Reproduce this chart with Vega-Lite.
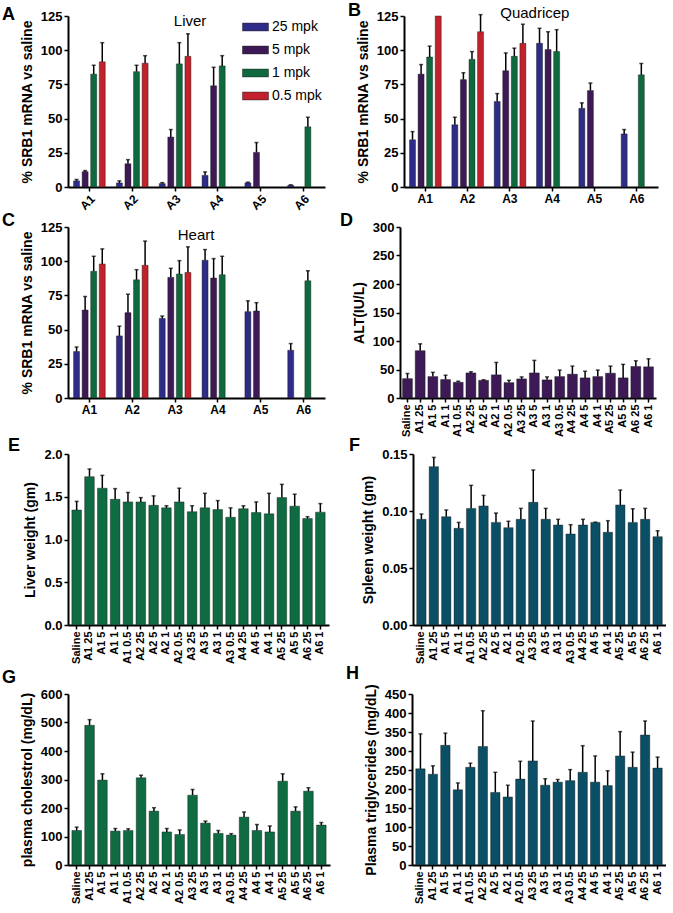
{
  "$schema": "https://vega.github.io/schema/vega-lite/v6.json",
  "padding": {"left": 2, "top": 2, "right": 0, "bottom": 0},
  "background": "white",
  "datasets": {
    "liver": [
      {"g": "A1", "d": "25 mpk", "v": 4.5, "hi": 5.5},
      {"g": "A1", "d": "5 mpk", "v": 11.2, "hi": 12},
      {"g": "A1", "d": "1 mpk", "v": 82.5, "hi": 89},
      {"g": "A1", "d": "0.5 mpk", "v": 91.5, "hi": 105.5},
      {"g": "A2", "d": "25 mpk", "v": 3, "hi": 4.5},
      {"g": "A2", "d": "5 mpk", "v": 17, "hi": 20},
      {"g": "A2", "d": "1 mpk", "v": 84.3, "hi": 89},
      {"g": "A2", "d": "0.5 mpk", "v": 90.5, "hi": 96},
      {"g": "A3", "d": "25 mpk", "v": 2.5, "hi": 3.2},
      {"g": "A3", "d": "5 mpk", "v": 36.5, "hi": 42},
      {"g": "A3", "d": "1 mpk", "v": 90, "hi": 105.5},
      {"g": "A3", "d": "0.5 mpk", "v": 95.5, "hi": 112},
      {"g": "A4", "d": "25 mpk", "v": 8.5, "hi": 11},
      {"g": "A4", "d": "5 mpk", "v": 74, "hi": 87.5},
      {"g": "A4", "d": "1 mpk", "v": 88.5, "hi": 96},
      {"g": "A5", "d": "25 mpk", "v": 3, "hi": 3.5},
      {"g": "A5", "d": "5 mpk", "v": 25.3, "hi": 32.5},
      {"g": "A6", "d": "25 mpk", "v": 1.2, "hi": 1.6},
      {"g": "A6", "d": "1 mpk", "v": 44, "hi": 51}
    ],
    "quad": [
      {"g": "A1", "d": "25 mpk", "v": 34.5, "hi": 40.5},
      {"g": "A1", "d": "5 mpk", "v": 82.5, "hi": 89.5},
      {"g": "A1", "d": "1 mpk", "v": 95, "hi": 103},
      {"g": "A1", "d": "0.5 mpk", "v": 125, "hi": null},
      {"g": "A2", "d": "25 mpk", "v": 45.5, "hi": 51},
      {"g": "A2", "d": "5 mpk", "v": 78.5, "hi": 83.5},
      {"g": "A2", "d": "1 mpk", "v": 93.3, "hi": 99},
      {"g": "A2", "d": "0.5 mpk", "v": 113.5, "hi": 126},
      {"g": "A3", "d": "25 mpk", "v": 62.5, "hi": 68.3},
      {"g": "A3", "d": "5 mpk", "v": 85, "hi": 98},
      {"g": "A3", "d": "1 mpk", "v": 95.5, "hi": 101.5},
      {"g": "A3", "d": "0.5 mpk", "v": 105, "hi": 119},
      {"g": "A4", "d": "25 mpk", "v": 105, "hi": 116},
      {"g": "A4", "d": "5 mpk", "v": 100.5, "hi": 113.5},
      {"g": "A4", "d": "1 mpk", "v": 99, "hi": 115},
      {"g": "A5", "d": "25 mpk", "v": 57.5, "hi": 61.5},
      {"g": "A5", "d": "5 mpk", "v": 70.5, "hi": 76},
      {"g": "A6", "d": "25 mpk", "v": 38.8, "hi": 42},
      {"g": "A6", "d": "1 mpk", "v": 82, "hi": 90.3}
    ],
    "heart": [
      {"g": "A1", "d": "25 mpk", "v": 34, "hi": 37.3},
      {"g": "A1", "d": "5 mpk", "v": 64.3, "hi": 74.2},
      {"g": "A1", "d": "1 mpk", "v": 92.6, "hi": 103.6},
      {"g": "A1", "d": "0.5 mpk", "v": 98, "hi": 109},
      {"g": "A2", "d": "25 mpk", "v": 45.4, "hi": 52.5},
      {"g": "A2", "d": "5 mpk", "v": 62.4, "hi": 75.9},
      {"g": "A2", "d": "1 mpk", "v": 86.4, "hi": 93.8},
      {"g": "A2", "d": "0.5 mpk", "v": 97, "hi": 114.7},
      {"g": "A3", "d": "25 mpk", "v": 58.2, "hi": 59.9},
      {"g": "A3", "d": "5 mpk", "v": 88.2, "hi": 94.8},
      {"g": "A3", "d": "1 mpk", "v": 90.6, "hi": 100.4},
      {"g": "A3", "d": "0.5 mpk", "v": 91.8, "hi": 110.5},
      {"g": "A4", "d": "25 mpk", "v": 100.7, "hi": 108.5},
      {"g": "A4", "d": "5 mpk", "v": 87.7, "hi": 101.9},
      {"g": "A4", "d": "1 mpk", "v": 90.1, "hi": 103.6},
      {"g": "A5", "d": "25 mpk", "v": 63.1, "hi": 71},
      {"g": "A5", "d": "5 mpk", "v": 63.6, "hi": 69.7},
      {"g": "A6", "d": "25 mpk", "v": 34.9, "hi": 39.8},
      {"g": "A6", "d": "1 mpk", "v": 85.7, "hi": 93}
    ],
    "alt": [
      {"c": "Saline", "v": 34, "hi": 43},
      {"c": "A1 25", "v": 83, "hi": 95},
      {"c": "A1 5", "v": 37.6, "hi": 45},
      {"c": "A1 1", "v": 32.4, "hi": 40},
      {"c": "A1 0.5", "v": 27.6, "hi": 29.4},
      {"c": "A2 25", "v": 44, "hi": 46},
      {"c": "A2 5", "v": 31, "hi": 32},
      {"c": "A2 1", "v": 40.6, "hi": 62.4},
      {"c": "A2 0.5", "v": 27, "hi": 31},
      {"c": "A3 25", "v": 33.5, "hi": 37},
      {"c": "A3 5", "v": 44, "hi": 66},
      {"c": "A3 1", "v": 31.8, "hi": 37},
      {"c": "A3 0.5", "v": 37.6, "hi": 49},
      {"c": "A4 25", "v": 41.8, "hi": 56},
      {"c": "A4 5", "v": 35.3, "hi": 47},
      {"c": "A4 1", "v": 37.6, "hi": 49},
      {"c": "A5 25", "v": 43.5, "hi": 56},
      {"c": "A5 5", "v": 35.3, "hi": 59},
      {"c": "A6 25", "v": 55.3, "hi": 65.3},
      {"c": "A6 1", "v": 54.7, "hi": 68.8}
    ],
    "lw": [
      {"c": "Saline", "v": 1.345, "hi": 1.446},
      {"c": "A1 25", "v": 1.735, "hi": 1.825},
      {"c": "A1 5", "v": 1.6, "hi": 1.75},
      {"c": "A1 1", "v": 1.47, "hi": 1.595},
      {"c": "A1 0.5", "v": 1.44, "hi": 1.55},
      {"c": "A2 25", "v": 1.44, "hi": 1.49},
      {"c": "A2 5", "v": 1.4, "hi": 1.51},
      {"c": "A2 1", "v": 1.37, "hi": 1.395},
      {"c": "A2 0.5", "v": 1.44, "hi": 1.6},
      {"c": "A3 25", "v": 1.325, "hi": 1.395},
      {"c": "A3 5", "v": 1.37, "hi": 1.54},
      {"c": "A3 1", "v": 1.35, "hi": 1.455},
      {"c": "A3 0.5", "v": 1.26, "hi": 1.37},
      {"c": "A4 25", "v": 1.36, "hi": 1.395},
      {"c": "A4 5", "v": 1.315, "hi": 1.44},
      {"c": "A4 1", "v": 1.3, "hi": 1.54},
      {"c": "A5 25", "v": 1.49, "hi": 1.645},
      {"c": "A5 5", "v": 1.39, "hi": 1.53},
      {"c": "A6 25", "v": 1.245, "hi": 1.267},
      {"c": "A6 1", "v": 1.32, "hi": 1.42}
    ],
    "sw": [
      {"c": "Saline", "v": 0.0927, "hi": 0.0974},
      {"c": "A1 25", "v": 0.1389, "hi": 0.147},
      {"c": "A1 5", "v": 0.095, "hi": 0.1009},
      {"c": "A1 1", "v": 0.0848, "hi": 0.09},
      {"c": "A1 0.5", "v": 0.1023, "hi": 0.1225},
      {"c": "A2 25", "v": 0.1044, "hi": 0.1137},
      {"c": "A2 5", "v": 0.09, "hi": 0.0982},
      {"c": "A2 1", "v": 0.0854, "hi": 0.091},
      {"c": "A2 0.5", "v": 0.0927, "hi": 0.1023},
      {"c": "A3 25", "v": 0.1076, "hi": 0.136},
      {"c": "A3 5", "v": 0.0927, "hi": 0.1023},
      {"c": "A3 1", "v": 0.0877, "hi": 0.0927},
      {"c": "A3 0.5", "v": 0.0798, "hi": 0.088},
      {"c": "A4 25", "v": 0.0877, "hi": 0.0927},
      {"c": "A4 5", "v": 0.09, "hi": 0.0902},
      {"c": "A4 1", "v": 0.0813, "hi": 0.0915},
      {"c": "A5 25", "v": 0.1053, "hi": 0.1184},
      {"c": "A5 5", "v": 0.09, "hi": 0.102},
      {"c": "A6 25", "v": 0.0927, "hi": 0.1023},
      {"c": "A6 1", "v": 0.0775, "hi": 0.0827}
    ],
    "chol": [
      {"c": "Saline", "v": 121, "hi": 133},
      {"c": "A1 25", "v": 490, "hi": 510},
      {"c": "A1 5", "v": 298, "hi": 320},
      {"c": "A1 1", "v": 119, "hi": 128},
      {"c": "A1 0.5", "v": 121, "hi": 127},
      {"c": "A2 25", "v": 306, "hi": 315},
      {"c": "A2 5", "v": 189, "hi": 201},
      {"c": "A2 1", "v": 116, "hi": 128},
      {"c": "A2 0.5", "v": 107, "hi": 123},
      {"c": "A3 25", "v": 245, "hi": 265},
      {"c": "A3 5", "v": 147, "hi": 154},
      {"c": "A3 1", "v": 111, "hi": 121},
      {"c": "A3 0.5", "v": 105, "hi": 110},
      {"c": "A4 25", "v": 168, "hi": 186},
      {"c": "A4 5", "v": 121, "hi": 142},
      {"c": "A4 1", "v": 116, "hi": 137},
      {"c": "A5 25", "v": 294, "hi": 320},
      {"c": "A5 5", "v": 189, "hi": 204},
      {"c": "A6 25", "v": 259, "hi": 271},
      {"c": "A6 1", "v": 140, "hi": 149}
    ],
    "tg": [
      {"c": "Saline", "v": 253, "hi": 345},
      {"c": "A1 25", "v": 239, "hi": 261},
      {"c": "A1 5", "v": 315, "hi": 347},
      {"c": "A1 1", "v": 198, "hi": 216},
      {"c": "A1 0.5", "v": 257, "hi": 268},
      {"c": "A2 25", "v": 312, "hi": 406},
      {"c": "A2 5", "v": 191, "hi": 244},
      {"c": "A2 1", "v": 179, "hi": 210},
      {"c": "A2 0.5", "v": 226, "hi": 273},
      {"c": "A3 25", "v": 274, "hi": 379},
      {"c": "A3 5", "v": 210, "hi": 227},
      {"c": "A3 1", "v": 218, "hi": 225},
      {"c": "A3 0.5", "v": 222, "hi": 251},
      {"c": "A4 25", "v": 244, "hi": 314},
      {"c": "A4 5", "v": 218, "hi": 287},
      {"c": "A4 1", "v": 209, "hi": 248},
      {"c": "A5 25", "v": 287, "hi": 351},
      {"c": "A5 5", "v": 257, "hi": 297},
      {"c": "A6 25", "v": 342, "hi": 379},
      {"c": "A6 1", "v": 255, "hi": 284}
    ],
    "lbl_liver": [{"g": "A3", "v": 121, "t": "Liver"}],
    "lbl_quad": [{"g": "A3", "v": 127, "t": "Quadricep"}],
    "lbl_heart": [{"g": "A3", "v": 119, "t": "Heart"}]
  },
  "config": {
    "font": "Liberation Sans",
    "view": {"stroke": null},
    "axis": {
      "domainColor": "black", "domainWidth": 2, "tickColor": "black", "tickWidth": 1.5, "tickSize": 4,
      "labelFont": "Liberation Sans", "labelFontWeight": "bold", "labelFontSize": 13, "labelColor": "black", "labelPadding": 2, "labelOverlap": false,
      "titleFont": "Liberation Sans", "titleFontWeight": "bold", "titleFontSize": 14, "titleColor": "black", "titlePadding": 6,
      "grid": false
    },
    "axisX": {"labelFontSize": 12},
    "title": {"fontSize": 18, "fontWeight": "bold", "anchor": "start", "frame": "group", "offset": 0, "color": "black", "font": "Liberation Sans"},
    "concat": {"spacing": 0}
  },
  "spacing": 0,
  "resolve": {"scale": {"color": "independent"}, "legend": {"color": "independent"}},
  "vconcat": [
    {
      "spacing": 23,
      "resolve": {"scale": {"color": "independent"}, "legend": {"color": "independent"}},
      "hconcat": [
        {
          "title": {"text": "A", "dx": -66, "offset": -14},
          "width": 257, "height": 171,
          "layer": [
            {
              "data": {"name": "liver"},
              "mark": {"type": "bar", "stroke": "#111", "strokeWidth": 0.4},
              "encoding": {
                "x": {"field": "g", "type": "nominal", "scale": {"domain": ["A1","A2","A3","A4","A5","A6"], "paddingInner": 0.2, "paddingOuter": 0.1}, "axis": {"title": null, "labelAngle": -45, "labelAlign": "right", "labelBaseline": "top"}},
                "xOffset": {"field": "d", "type": "nominal", "scale": {"domain": ["25 mpk","5 mpk","1 mpk","0.5 mpk"], "paddingInner": 0.3, "paddingOuter": 0.15}},
                "y": {"field": "v", "type": "quantitative", "scale": {"domain": [0, 125], "nice": false}, "axis": {"values": [0,25,50,75,100,125], "title": "% SRB1 mRNA vs saline"}},
                "color": {"field": "d", "type": "nominal", "scale": {"domain": ["25 mpk","5 mpk","1 mpk","0.5 mpk"], "range": ["#2f2c88","#3d1a56","#0e6a3e","#c1222b"]},
                  "legend": {"title": null, "orient": "top-right", "offset": 3, "labelFontSize": 14, "labelFont": "Liberation Sans", "labelColor": "black", "symbolType": "M-1,-0.3H1V0.3H-1Z", "symbolSize": 676, "symbolStrokeColor": "#222", "symbolStrokeWidth": 0.5, "clipHeight": 16, "rowPadding": 7, "labelOffset": 3}}
              }
            },
            {
              "data": {"name": "liver"},
              "mark": {"type": "rule", "color": "black", "strokeWidth": 1.5},
              "encoding": {
                "x": {"field": "g", "type": "nominal", "axis": {"title": null, "labelAngle": -45, "labelAlign": "right", "labelBaseline": "top"}},
                "xOffset": {"field": "d", "type": "nominal"},
                "y": {"field": "v", "type": "quantitative", "axis": {"values": [0,25,50,75,100,125], "title": "% SRB1 mRNA vs saline"}},
                "y2": {"field": "hi"}
              }
            },
            {
              "data": {"name": "liver"},
              "mark": {"type": "tick", "color": "black", "thickness": 1.5, "size": 4},
              "encoding": {
                "x": {"field": "g", "type": "nominal", "axis": {"title": null, "labelAngle": -45, "labelAlign": "right", "labelBaseline": "top"}},
                "xOffset": {"field": "d", "type": "nominal"},
                "y": {"field": "hi", "type": "quantitative", "axis": {"values": [0,25,50,75,100,125], "title": "% SRB1 mRNA vs saline"}}
              }
            },
            {
              "data": {"name": "lbl_liver"},
              "mark": {"type": "text", "fontSize": 15, "dx": 15, "baseline": "middle", "color": "black"},
              "encoding": {
                "x": {"field": "g", "type": "nominal", "axis": {"title": null, "labelAngle": -45, "labelAlign": "right", "labelBaseline": "top"}},
                "y": {"field": "v", "type": "quantitative", "axis": {"values": [0,25,50,75,100,125], "title": "% SRB1 mRNA vs saline"}},
                "text": {"field": "t"}
              }
            }
          ]
        },
        {
          "title": {"text": "B", "dx": -56, "offset": -14},
          "width": 254, "height": 171,
          "layer": [
            {
              "data": {"name": "quad"},
              "mark": {"type": "bar", "stroke": "#111", "strokeWidth": 0.4},
              "encoding": {
                "x": {"field": "g", "type": "nominal", "scale": {"domain": ["A1","A2","A3","A4","A5","A6"], "paddingInner": 0.2, "paddingOuter": 0.1}, "axis": {"title": null, "labelAngle": 0}},
                "xOffset": {"field": "d", "type": "nominal", "scale": {"domain": ["25 mpk","5 mpk","1 mpk","0.5 mpk"], "paddingInner": 0.3, "paddingOuter": 0.15}},
                "y": {"field": "v", "type": "quantitative", "scale": {"domain": [0, 125], "nice": false}, "axis": {"values": [0,25,50,75,100,125], "title": "% SRB1 mRNA vs saline"}},
                "color": {"field": "d", "type": "nominal", "scale": {"domain": ["25 mpk","5 mpk","1 mpk","0.5 mpk"], "range": ["#2f2c88","#3d1a56","#0e6a3e","#c1222b"]}, "legend": null}
              }
            },
            {
              "data": {"name": "quad"},
              "transform": [{"filter": "isValid(datum.hi)"}],
              "mark": {"type": "rule", "color": "black", "strokeWidth": 1.5},
              "encoding": {
                "x": {"field": "g", "type": "nominal", "axis": {"title": null, "labelAngle": 0}},
                "xOffset": {"field": "d", "type": "nominal"},
                "y": {"field": "v", "type": "quantitative", "axis": {"values": [0,25,50,75,100,125], "title": "% SRB1 mRNA vs saline"}},
                "y2": {"field": "hi"}
              }
            },
            {
              "data": {"name": "quad"},
              "transform": [{"filter": "isValid(datum.hi)"}],
              "mark": {"type": "tick", "color": "black", "thickness": 1.5, "size": 4},
              "encoding": {
                "x": {"field": "g", "type": "nominal", "axis": {"title": null, "labelAngle": 0}},
                "xOffset": {"field": "d", "type": "nominal"},
                "y": {"field": "hi", "type": "quantitative", "axis": {"values": [0,25,50,75,100,125], "title": "% SRB1 mRNA vs saline"}}
              }
            },
            {
              "data": {"name": "lbl_quad"},
              "mark": {"type": "text", "fontSize": 15, "dx": 25, "baseline": "middle", "color": "black"},
              "encoding": {
                "x": {"field": "g", "type": "nominal", "axis": {"title": null, "labelAngle": 0}},
                "y": {"field": "v", "type": "quantitative", "axis": {"values": [0,25,50,75,100,125], "title": "% SRB1 mRNA vs saline"}},
                "text": {"field": "t"}
              }
            }
          ]
        }
      ]
    },
    {
      "spacing": 15,
      "resolve": {"scale": {"color": "independent"}, "legend": {"color": "independent"}},
      "hconcat": [
        {
          "title": {"text": "C", "dx": -66, "offset": -9},
          "width": 257, "height": 171,
          "layer": [
            {
              "data": {"name": "heart"},
              "mark": {"type": "bar", "stroke": "#111", "strokeWidth": 0.4},
              "encoding": {
                "x": {"field": "g", "type": "nominal", "scale": {"domain": ["A1","A2","A3","A4","A5","A6"], "paddingInner": 0.2, "paddingOuter": 0.1}, "axis": {"title": null, "labelAngle": 0}},
                "xOffset": {"field": "d", "type": "nominal", "scale": {"domain": ["25 mpk","5 mpk","1 mpk","0.5 mpk"], "paddingInner": 0.3, "paddingOuter": 0.15}},
                "y": {"field": "v", "type": "quantitative", "scale": {"domain": [0, 125], "nice": false}, "axis": {"values": [0,25,50,75,100,125], "title": "% SRB1 mRNA vs saline"}},
                "color": {"field": "d", "type": "nominal", "scale": {"domain": ["25 mpk","5 mpk","1 mpk","0.5 mpk"], "range": ["#2f2c88","#3d1a56","#0e6a3e","#c1222b"]}, "legend": null}
              }
            },
            {
              "data": {"name": "heart"},
              "mark": {"type": "rule", "color": "black", "strokeWidth": 1.5},
              "encoding": {
                "x": {"field": "g", "type": "nominal", "axis": {"title": null, "labelAngle": 0}},
                "xOffset": {"field": "d", "type": "nominal"},
                "y": {"field": "v", "type": "quantitative", "axis": {"values": [0,25,50,75,100,125], "title": "% SRB1 mRNA vs saline"}},
                "y2": {"field": "hi"}
              }
            },
            {
              "data": {"name": "heart"},
              "mark": {"type": "tick", "color": "black", "thickness": 1.5, "size": 4},
              "encoding": {
                "x": {"field": "g", "type": "nominal", "axis": {"title": null, "labelAngle": 0}},
                "xOffset": {"field": "d", "type": "nominal"},
                "y": {"field": "hi", "type": "quantitative", "axis": {"values": [0,25,50,75,100,125], "title": "% SRB1 mRNA vs saline"}}
              }
            },
            {
              "data": {"name": "lbl_heart"},
              "mark": {"type": "text", "fontSize": 15, "dx": 21, "baseline": "middle", "color": "black"},
              "encoding": {
                "x": {"field": "g", "type": "nominal", "axis": {"title": null, "labelAngle": 0}},
                "y": {"field": "v", "type": "quantitative", "axis": {"values": [0,25,50,75,100,125], "title": "% SRB1 mRNA vs saline"}},
                "text": {"field": "t"}
              }
            }
          ]
        },
        {
          "title": {"text": "D", "dx": -60, "offset": -9},
          "width": 256, "height": 171,
          "data": {"name": "alt"},
          "encoding": {
            "x": {"field": "c", "type": "nominal", "sort": null, "scale": {"paddingInner": 0.22, "paddingOuter": 0.2}, "axis": {"title": null, "labelAngle": -90, "labelFontSize": 11}},
            "y": {"field": "v", "type": "quantitative", "scale": {"domain": [0, 300], "nice": false}, "axis": {"values": [0,50,100,150,200,250,300], "title": "ALT(IU/L)"}}
          },
          "layer": [
            {"mark": {"type": "bar", "color": "#3d1a56", "stroke": "#111", "strokeWidth": 0.4}},
            {"mark": {"type": "rule", "color": "black", "strokeWidth": 1.5},
             "encoding": {"y2": {"field": "hi"}}},
            {"mark": {"type": "tick", "color": "black", "thickness": 1.5, "size": 4},
             "encoding": {"y": {"field": "hi", "type": "quantitative", "axis": {"values": [0,50,100,150,200,250,300], "title": "ALT(IU/L)"}}}}
          ]
        }
      ]
    },
    {
      "spacing": 20,
      "hconcat": [
        {
          "title": {"text": "E", "dx": -60, "offset": -7},
          "width": 261, "height": 171,
          "data": {"name": "lw"},
          "encoding": {
            "x": {"field": "c", "type": "nominal", "sort": null, "scale": {"paddingInner": 0.25, "paddingOuter": 0.3}, "axis": {"title": null, "labelAngle": -90, "labelFontSize": 11}},
            "y": {"field": "v", "type": "quantitative", "scale": {"domain": [0, 2], "nice": false}, "axis": {"values": [0,0.5,1,1.5,2], "format": ".1f", "title": "Liver weight (gm)"}}
          },
          "layer": [
            {"mark": {"type": "bar", "color": "#0e6b42", "stroke": "#111", "strokeWidth": 0.4}},
            {"mark": {"type": "rule", "color": "black", "strokeWidth": 1.5},
             "encoding": {"y2": {"field": "hi"}}},
            {"mark": {"type": "tick", "color": "black", "thickness": 1.5, "size": 4},
             "encoding": {"y": {"field": "hi", "type": "quantitative", "axis": {"values": [0,0.5,1,1.5,2], "format": ".1f", "title": "Liver weight (gm)"}}}}
          ]
        },
        {
          "title": {"text": "F", "dx": -64, "offset": -7},
          "width": 253, "height": 171,
          "data": {"name": "sw"},
          "encoding": {
            "x": {"field": "c", "type": "nominal", "sort": null, "scale": {"paddingInner": 0.25, "paddingOuter": 0.3}, "axis": {"title": null, "labelAngle": -90, "labelFontSize": 11}},
            "y": {"field": "v", "type": "quantitative", "scale": {"domain": [0, 0.15], "nice": false}, "axis": {"values": [0,0.05,0.1,0.15], "format": ".2f", "title": "Spleen weight (gm)"}}
          },
          "layer": [
            {"mark": {"type": "bar", "color": "#0b4f66", "stroke": "#111", "strokeWidth": 0.4}},
            {"mark": {"type": "rule", "color": "black", "strokeWidth": 1.5},
             "encoding": {"y2": {"field": "hi"}}},
            {"mark": {"type": "tick", "color": "black", "thickness": 1.5, "size": 4},
             "encoding": {"y": {"field": "hi", "type": "quantitative", "axis": {"values": [0,0.05,0.1,0.15], "format": ".2f", "title": "Spleen weight (gm)"}}}}
          ]
        }
      ]
    },
    {
      "spacing": 16,
      "hconcat": [
        {
          "title": {"text": "G", "dx": -66, "offset": 1},
          "width": 262, "height": 171,
          "data": {"name": "chol"},
          "encoding": {
            "x": {"field": "c", "type": "nominal", "sort": null, "scale": {"paddingInner": 0.25, "paddingOuter": 0.3}, "axis": {"title": null, "labelAngle": -90, "labelFontSize": 11}},
            "y": {"field": "v", "type": "quantitative", "scale": {"domain": [0, 600], "nice": false}, "axis": {"values": [0,100,200,300,400,500,600], "title": "plasma cholestrol (mg/dL)"}}
          },
          "layer": [
            {"mark": {"type": "bar", "color": "#0e6b42", "stroke": "#111", "strokeWidth": 0.4}},
            {"mark": {"type": "rule", "color": "black", "strokeWidth": 1.5},
             "encoding": {"y2": {"field": "hi"}}},
            {"mark": {"type": "tick", "color": "black", "thickness": 1.5, "size": 4},
             "encoding": {"y": {"field": "hi", "type": "quantitative", "axis": {"values": [0,100,200,300,400,500,600], "title": "plasma cholestrol (mg/dL)"}}}}
          ]
        },
        {
          "title": {"text": "H", "dx": -66, "offset": 1},
          "width": 254, "height": 171,
          "data": {"name": "tg"},
          "encoding": {
            "x": {"field": "c", "type": "nominal", "sort": null, "scale": {"paddingInner": 0.25, "paddingOuter": 0.3}, "axis": {"title": null, "labelAngle": -90, "labelFontSize": 11}},
            "y": {"field": "v", "type": "quantitative", "scale": {"domain": [0, 450], "nice": false}, "axis": {"values": [0,50,100,150,200,250,300,350,400,450], "title": "Plasma triglycerides (mg/dL)"}}
          },
          "layer": [
            {"mark": {"type": "bar", "color": "#0b4f66", "stroke": "#111", "strokeWidth": 0.4}},
            {"mark": {"type": "rule", "color": "black", "strokeWidth": 1.5},
             "encoding": {"y2": {"field": "hi"}}},
            {"mark": {"type": "tick", "color": "black", "thickness": 1.5, "size": 4},
             "encoding": {"y": {"field": "hi", "type": "quantitative", "axis": {"values": [0,50,100,150,200,250,300,350,400,450], "title": "Plasma triglycerides (mg/dL)"}}}}
          ]
        }
      ]
    }
  ]
}
